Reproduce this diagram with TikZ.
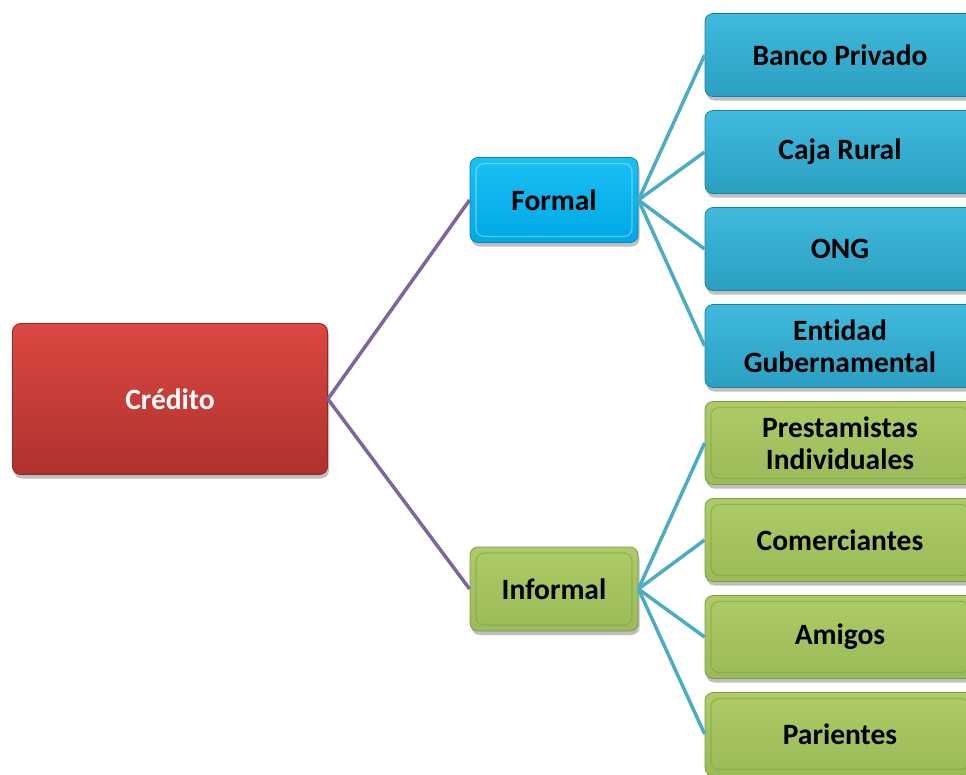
\documentclass[tikz,border=0pt]{standalone}
\usepackage{fontspec}
\setmainfont{Carlito}[Ligatures=NoCommon]
\usetikzlibrary{shadows}
\definecolor{redtop}{HTML}{DC4742}
\definecolor{redbot}{HTML}{AE322D}
\definecolor{redline}{HTML}{8E2925}
\definecolor{cyantop}{HTML}{1AC0F5}
\definecolor{cyanbot}{HTML}{00A8E4}
\definecolor{cyanline}{HTML}{0A86B4}
\definecolor{tealtop}{HTML}{40BADD}
\definecolor{tealbot}{HTML}{2B9FC2}
\definecolor{tealline}{HTML}{217F9C}
\definecolor{greentop}{HTML}{ADCB66}
\definecolor{greenbot}{HTML}{9BBB59}
\definecolor{greenline}{HTML}{7E9A45}
\definecolor{purplelink}{HTML}{8064A2}
\definecolor{cyanlink}{HTML}{4BACC6}
\tikzset{
  box/.style={rectangle, rounded corners=8pt, align=center, font=\fontsize{29.5}{32}\selectfont\bfseries,
    line width=0.8pt,
    drop shadow={shadow xshift=1.5pt, shadow yshift=-4pt, opacity=0.25, fill=black}},
  bevel/.style={path picture={\draw[#1, line width=1.2pt]
      ([shift={(6pt,-6pt)}]path picture bounding box.north west) rectangle
      ([shift={(-6pt,6pt)}]path picture bounding box.south east);}},
  rootbox/.style={box, draw=redline, top color=redtop, bottom color=redbot, text=white,
    minimum width=315pt, minimum height=151pt},
  formalbox/.style={box, draw=cyanline, top color=cyantop, bottom color=cyanbot, text=black,
    minimum width=168pt, minimum height=85pt, bevel={white, opacity=0.35}},
  informalbox/.style={box, draw=greenline, top color=greentop, bottom color=greenbot, text=black,
    minimum width=168pt, minimum height=84pt, bevel={greenline, opacity=0.5}},
  tealbox/.style={box, draw=tealline, top color=tealtop, bottom color=tealbot, text=black,
    minimum width=270pt, minimum height=83pt},
  greenbox/.style={box, draw=greenline, top color=greentop, bottom color=greenbot, text=black,
    minimum width=270pt, minimum height=83pt, bevel={greenline, opacity=0.5}},
  plink/.style={draw=purplelink, line width=3.5pt},
  clink/.style={draw=cyanlink, line width=3.5pt}
}
\begin{document}
\begin{tikzpicture}[x=1pt,y=-1pt]
\useasboundingbox (0,0) rectangle (966,774);
\node[rootbox] (credito) at (170,399) {Crédito};
\node[formalbox] (formal) at (554,200) {Formal};
\node[informalbox] (informal) at (554,589) {Informal};
\node[tealbox] (banco) at (840,55) {Banco Privado};
\node[tealbox] (caja) at (840,152) {Caja Rural};
\node[tealbox] (ong) at (840,249) {ONG};
\node[tealbox] (entidad) at (840,346) {Entidad\\Gubernamental};
\node[greenbox] (prest) at (840,443) {Prestamistas\\Individuales};
\node[greenbox] (comer) at (840,540) {Comerciantes};
\node[greenbox] (amigos) at (840,637) {Amigos};
\node[greenbox] (parientes) at (840,734) {Parientes};
\draw[plink] (credito.east) -- (formal.west);
\draw[plink] (credito.east) -- (informal.west);
\foreach \t in {banco,caja,ong,entidad}{\draw[clink] (formal.east) -- (\t.west);}
\foreach \t in {prest,comer,amigos,parientes}{\draw[clink] (informal.east) -- (\t.west);}
\end{tikzpicture}
\end{document}
